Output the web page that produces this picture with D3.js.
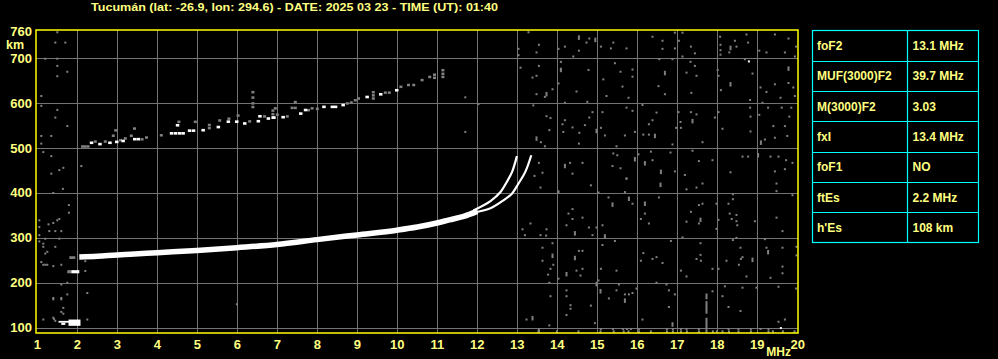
<!DOCTYPE html>
<html><head><meta charset="utf-8">
<script src="https://cdn.jsdelivr.net/npm/d3@7"></script>
<style>body{margin:0;background:#000;overflow:hidden}svg{display:block}</style>
</head><body><svg id="c" width="998" height="359"></svg>
<script>
const title = "Tucumán (lat: -26.9, lon: 294.6) - DATE: 2025 03 23 - TIME (UT): 01:40";
const freqTicks = d3.range(1, 21);
const heightTicks = [100, 200, 300, 400, 500, 600, 700, 760];
const paramNames = ["foF2", "MUF(3000)F2", "M(3000)F2", "fxI", "foF1", "ftEs", "h'Es"];
const paramValues = ["13.1 MHz", "39.7 MHz", "3.03", "13.4 MHz", "NO", "2.2 MHz", "108 km"];

// F2 main echo band (freq MHz, virtual height km)
const f2Band = [[2.05,257.5],[2.5,259],[3.0,262],[3.33,263.5],[4.0,267],[4.99,272],[5.99,278],[6.99,285],[7.99,296],[8.99,306.5],[9.99,317],[10.5,324],[10.99,333],[11.3,340],[11.66,348],[12.0,359]];
const oTrace = [[11.9,361],[12.33,382],[12.58,402],[12.74,425],[12.87,447],[12.99,482]];
const xTrace = [[11.95,357],[12.33,366],[12.66,384],[12.87,399],[13.03,421],[13.2,447],[13.35,484]];
// Es echoes: [f1, f2, hTop, hBottom]
const esBlocks = [[1.53,1.8,115,111],[1.78,2.08,118,104],[1.6,1.7,111,106],[1.85,2.05,228,221]];
const esGrey = [[1.75,1.85,228,221],[1.8,1.95,259,253]];
// second hop F2 echoes
const hop2White = [[2.35,512],[2.56,509],[2.81,512],[2.98,514],[3.14,516],[3.43,520],[3.52,520],[4.35,533],[4.45,533],[4.55,533],[4.64,533],[4.5,551],[4.8,539],[4.9,539],[5.14,540],[5.52,547],[5.77,559],[5.98,559],[6.18,555],[6.52,560],[6.56,571],[6.77,566],[6.89,568],[6.91,568],[7.14,569],[7.58,577],[7.7,585],[8.16,592],[8.37,592],[8.45,592],[8.64,596],[9.24,614],[9.58,620],[9.98,629]];
const hop2Grey = [[2.13,504],[2.2,504],[2.27,504],[2.45,515],[2.7,515],[2.96,540],[2.9,528],[3.43,544],[3.35,528],[3.73,524],[3.62,520],[4.1,529],[4.54,559],[4.95,559],[5.3,545],[5.3,552],[5.56,562],[5.79,566],[6.02,573],[6.31,560],[6.39,625],[6.39,613],[6.39,600],[6.39,592],[6.68,571],[6.89,584],[6.89,576],[6.95,589],[7.0,575],[7.25,571],[7.37,590],[7.45,603],[7.45,590],[7.78,585],[7.87,589],[8.0,588],[8.75,600],[8.85,602],[8.95,607],[9.03,611],[9.4,625],[9.4,618],[9.4,611],[9.7,624],[9.8,624],[10.09,637],[10.28,641],[10.41,641],[10.62,652],[10.81,659],[10.93,664],[10.93,657],[11.14,674],[11.14,666],[11.14,659],[3.2,522],[3.08,518]];
// scattered noise points (freq, height)
const noiseLeft = [[1.45,735],[1.7,735],[1.2,699],[1.5,699],[1.5,683],[1.75,670],[1.5,660],[1.1,616],[1.1,594],[1.5,585],[1.45,568],[1.75,549],[1.1,527],[1.35,527],[1.1,510],[1.15,491],[1.35,482],[2.1,460],[1.35,443],[1.55,451],[1.65,456],[1.64,409],[1.4,400],[1.79,373],[1.79,356],[1.05,339],[1.28,330],[1.4,333],[1.5,339],[1.55,342],[1.05,324],[1.3,315],[1.45,315],[1.6,315],[1.05,306],[1.2,298],[1.55,298],[1.05,292],[1.15,287],[1.45,280],[1.15,280],[1.25,269],[1.2,265],[1.1,246],[1.15,240],[1.2,240],[1.25,240],[1.4,237],[1.6,240],[2.2,248],[2.2,226],[1.6,196],[1.75,200],[1.75,174],[2.25,177],[1.4,166],[1.4,163],[1.6,166],[1.6,163],[1.65,144],[1.6,135],[1.65,131],[1.4,122],[1.42,119],[1.15,118],[1.45,115],[2.25,118],[1.5,758],[5.99,152],[11.7,613],[11.7,536],[12.03,598]];
const noiseHigh = [[13.03,721],[13.03,707],[13.54,730],[13.48,713],[14.03,721],[14.19,726],[14.4,704],[14.54,717],[14.73,735],[14.8,744],[15.09,726],[15.34,722],[15.4,735],[15.73,722],[16.38,748],[16.63,739],[16.63,721],[16.94,757],[16.94,722],[17.13,757],[17.04,739],[17.13,704],[17.34,726],[17.44,711],[18.07,748],[18.08,730],[18.08,718],[18.08,708],[18.44,739],[18.3,713],[18.48,726],[18.73,753],[18.77,735],[19.05,717],[19.23,713],[19.44,753],[19.69,713],[19.78,744],[19.94,704],[19.97,726],[13.28,758],
[13.08,679],[13.54,683],[13.38,657],[13.48,661],[13.88,631],[13.69,614],[13.48,620],[14.09,692],[14.09,674],[14.03,644],[14.48,626],[14.78,674],[14.75,603],[15.15,653],[15.44,689],[15.58,670],[15.63,637],[15.88,675],[15.88,659],[15.23,616],[15.78,612],[16.53,638],[16.69,620],[16.55,698],[16.88,698],[17.23,668],[17.33,692],[17.44,683],[17.48,661],[17.35,623],[18.01,674],[18.03,661],[18.09,629],[18.69,698],[18.88,666],[18.82,607],[19.08,635],[19.23,625],[19.44,642],[19.58,612],[19.78,645],[19.9,635],[19.94,616]];
const noiseMid = [[13.4,595],[13.73,571],[13.83,567],[13.8,540],[13.59,513],[13.69,504],[14.19,601],[14.19,562],[14.13,553],[14.15,536],[14.38,546],[14.55,534],[14.54,510],[14.69,551],[14.8,568],[14.88,580],[15.09,545],[15.13,580],[15.19,528],[15.48,504],[15.69,528],[15.73,590],[15.88,583],[15.94,536],[16.13,596],[16.15,530],[16.29,553],[16.29,530],[16.48,579],[16.38,562],[16.88,508],[16.97,545],[17.03,580],[17.08,558],[17.09,545],[17.34,580],[17.48,575],[17.63,513],[17.94,568],[18.03,580],[18.13,543],[18.82,590],[18.83,570],[18.83,537],[19.05,574],[19.13,601],[19.27,590],[19.4,549],[19.44,523],[19.61,590],[19.69,549],[19.75,527],[19.85,590],[19.8,570],[19.19,519],
[13.54,467],[13.63,445],[13.43,438],[14.32,467],[14.38,443],[14.63,467],[15.4,488],[15.5,484],[15.38,460],[15.58,455],[15.73,432],[16.03,486],[16.34,492],[16.38,473],[16.83,490],[16.94,448],[17.19,440],[17.38,494],[17.54,471],[17.88,473],[18.33,446],[18.63,481],[18.77,481],[19.33,481],[19.53,481],[19.72,473],[19.88,467],[19.44,448],[19.69,453],
[13.58,412],[14.84,417],[15.03,401],[15.69,402],[15.73,432],[17.23,408],[17.48,412],[17.63,421],[19.48,421],[19.48,404]];
const noiseLow = [[13.33,332],[13.13,319],[13.19,306],[13.58,306],[13.73,319],[13.72,305],[14.28,354],[14.38,364],[14.38,342],[14.63,345],[14.23,328],[14.79,323],[14.88,306],[14.98,323],[15.13,328],[15.28,390],[15.88,376],[16.19,354],[16.09,342],[16.29,332],[16.54,390],[17.13,301],[17.23,336],[17.34,358],[17.54,373],[17.63,376],[17.54,332],[17.98,376],[18.03,340],[17.98,320],[18.28,376],[18.39,386],[18.31,354],[18.36,342],[18.48,351],[18.48,337],[18.5,328],[18.39,397],[18.94,337],[19.48,345],[19.63,315],[19.88,395],
[13.63,278],[13.63,249],[13.88,288],[13.9,240],[13.83,231],[13.77,218],[14.03,209],[13.8,200],[14.54,271],[14.63,271],[14.48,227],[14.63,231],[14.58,216],[15.09,231],[15.13,284],[15.44,293],[15.48,227],[15.03,205],[16.15,266],[16.09,249],[16.38,253],[16.48,257],[16.63,244],[16.84,293],[17.09,227],[17.23,214],[17.58,288],[17.58,262],[17.48,253],[17.59,249],[17.88,231],[18.03,231],[18.23,249],[18.39,295],[18.48,300],[18.58,278],[18.59,253],[18.63,257],[18.54,240],[18.73,214],[19.19,297],[19.23,278],[19.33,211],[19.63,278],[19.63,236],[19.63,221],[19.98,280],[19.98,261],
[13.83,170],[13.23,118],[13.8,105],[14.23,183],[14.23,170],[14.33,150],[14.33,142],[14.23,128],[14.84,149],[14.94,110],[15.54,196],[15.48,183],[15.29,165],[15.69,174],[15.79,174],[15.88,177],[15.98,187],[16.13,118],[16.48,200],[16.73,196],[16.79,183],[16.94,174],[16.79,146],[17.88,181],[18.13,170],[18.28,146],[18.19,192],[18.58,137],[18.63,189],[18.98,189],[19.53,191],[19.53,113],[19.69,118],[19.97,187],
[15.09,97],[15.39,97],[15.64,97],[15.74,97],[15.84,97],[16.04,97],[16.74,97],[16.89,97],[17.09,97],[17.23,97],[17.54,97],[18.28,97],[18.53,97],[18.84,97],[19.08,97],[19.28,97]];
const noiseWhite = [[18.79,693],[19.59,99]];
// vertical noise streaks: [freq, hLow, hHigh]
const noiseBars = [[17.73,163,176],[17.73,131,159],[17.73,88,122],[14.54,741,751],[14.95,736,746],[18.33,718,728],[13.73,615,625],[14.09,669,679],[16.69,662,672],[19.78,672,682],[18.33,637,647],[13.48,516,526],[14.98,533,543],[16.44,522,532],[17.38,555,565],[19.09,507,517],[19.02,479,489],[14.19,455,465],[15.94,470,480],[16.19,461,471],[16.59,442,452],[14.03,398,406],[16.58,413,423],[15.38,369,379],[15.79,382,392],[16.19,371,381],[17.58,335,345],[14.44,305,315],[15.19,298,308],[13.88,255,265],[14.44,250,260],[14.23,214,224],[18.88,246,256],[19.27,263,273],[14.98,192,202],[13.38,116,126],[15.08,176,186],[15.69,155,165],[16.88,102,112],[13.54,89,99]];
const bottomStreaks = [13.53,13.99,14.53,15.08,15.41,15.66,15.78,16.04,16.34,16.74,16.89,17.09,17.24,17.54,17.89,17.99,18.13,18.29,18.53,18.84,19.28,19.39,19.64,19.93];

const svg = d3.select("#c");
svg.append("rect").attr("width", 998).attr("height", 359).attr("fill", "#000");
const x = d3.scaleLinear().domain([1, 20]).range([37.3, 797.3]);
const y = d3.scaleLinear().domain([88, 763]).range([333, 30]);
const FONT = "'Liberation Sans', Arial, sans-serif";
const TXT = "#ffff80";
const GRID = "#737373";
const NOISE = "#808080";

// title
svg.append("text").attr("x", 91).attr("y", 11).attr("textLength", 407).attr("lengthAdjust", "spacingAndGlyphs")
  .attr("fill", TXT).attr("font-family", FONT).attr("font-weight", "bold").attr("font-size", 11.5).text(title);

// grid
const g = svg.append("g");
g.selectAll("line.v").data(freqTicks.filter(d => d > 1 && d < 20)).join("line")
  .attr("x1", d => Math.round(x(d)) + 0.5).attr("x2", d => Math.round(x(d)) + 0.5)
  .attr("y1", 30).attr("y2", 333).attr("stroke", GRID).attr("stroke-width", 1);
g.selectAll("line.h").data(heightTicks.filter(d => d < 760)).join("line")
  .attr("y1", d => Math.round(y(d)) + 0.5).attr("y2", d => Math.round(y(d)) + 0.5)
  .attr("x1", 36).attr("x2", 798).attr("stroke", GRID).attr("stroke-width", 1);

// noise
const allNoise = noiseLeft.concat(noiseHigh, noiseMid, noiseLow);
g.selectAll("rect.n").data(allNoise).join("rect")
  .attr("x", d => x(d[0]) - 1).attr("y", d => y(d[1]) - 1).attr("width", 2).attr("height", 2).attr("fill", NOISE);
g.selectAll("rect.b").data(noiseBars).join("rect")
  .attr("x", d => x(d[0]) - 1).attr("y", d => y(d[2])).attr("width", 2).attr("height", d => y(d[1]) - y(d[2])).attr("fill", NOISE);
g.selectAll("rect.bs").data(bottomStreaks).join("rect")
  .attr("x", d => x(d) - 1).attr("y", y(94)).attr("width", 2).attr("height", y(88) - y(94)).attr("fill", NOISE);
g.selectAll("rect.w").data(noiseWhite).join("rect")
  .attr("x", d => x(d[0]) - 1).attr("y", d => y(d[1]) - 1).attr("width", 2).attr("height", 2).attr("fill", "#fff");

// second hop
g.selectAll("rect.h2g").data(hop2Grey).join("rect")
  .attr("x", d => x(d[0]) - 1.5).attr("y", d => y(d[1]) - 1).attr("width", 3).attr("height", 2.5).attr("fill", NOISE);
g.selectAll("rect.h2w").data(hop2White).join("rect")
  .attr("x", d => x(d[0]) - 1.5).attr("y", d => y(d[1]) - 1.2).attr("width", 3.5).attr("height", 2.6).attr("fill", "#fff");

// Es
g.selectAll("rect.esg").data(esGrey).join("rect")
  .attr("x", d => x(d[0])).attr("y", d => y(d[2])).attr("width", d => x(d[1]) - x(d[0]))
  .attr("height", d => y(d[3]) - y(d[2])).attr("fill", NOISE);
g.selectAll("rect.es").data(esBlocks).join("rect")
  .attr("x", d => x(d[0])).attr("y", d => y(d[2])).attr("width", d => x(d[1]) - x(d[0]))
  .attr("height", d => y(d[3]) - y(d[2])).attr("fill", "#fff");

// F2 traces
const line = d3.line().x(d => x(d[0])).y(d => y(d[1])).curve(d3.curveMonotoneX);
g.append("path").attr("d", line(f2Band)).attr("fill", "none").attr("stroke", "#fff").attr("stroke-width", 5.5);
const lineC = d3.line().x(d => x(d[0])).y(d => y(d[1])).curve(d3.curveCatmullRom);
g.append("path").attr("d", lineC(oTrace)).attr("fill", "none").attr("stroke", "#fff").attr("stroke-width", 2.2);
g.append("path").attr("d", lineC(xTrace)).attr("fill", "none").attr("stroke", "#fff").attr("stroke-width", 2.2);

// frame
svg.append("rect").attr("x", 36).attr("y", 30).attr("width", 762).attr("height", 303)
  .attr("fill", "none").attr("stroke", "#ffff00").attr("stroke-width", 1.5);

// y labels
svg.selectAll("text.yl").data(heightTicks).join("text")
  .attr("x", 32).attr("y", d => y(d) + 4.5).attr("text-anchor", "end")
  .attr("fill", TXT).attr("font-family", FONT).attr("font-weight", "bold").attr("font-size", 13).text(d => d);
svg.append("text").attr("x", 6).attr("y", 49).attr("fill", TXT).attr("font-family", FONT)
  .attr("font-weight", "bold").attr("font-size", 12.5).text("km");

// x labels
svg.selectAll("text.xl").data(freqTicks).join("text")
  .attr("x", d => x(d) + (d === 20 ? 0.5 : 0)).attr("y", 348.5).attr("text-anchor", "middle")
  .attr("fill", TXT).attr("font-family", FONT).attr("font-weight", "bold").attr("font-size", 13).text(d => d);
svg.append("text").attr("x", 791).attr("y", 356).attr("text-anchor", "end").attr("fill", TXT)
  .attr("font-family", FONT).attr("font-weight", "bold").attr("font-size", 12).text("MHz");

// parameter table
const rows = d3.scaleBand().domain(paramNames).range([30.5, 242.5]);
const tb = svg.append("g");
tb.append("rect").attr("x", 812.5).attr("y", 30.5).attr("width", 166).attr("height", 212)
  .attr("fill", "none").attr("stroke", "#00ffff").attr("stroke-width", 1.2);
tb.append("line").attr("x1", 907.5).attr("x2", 907.5).attr("y1", 30.5).attr("y2", 242.5)
  .attr("stroke", "#00ffff").attr("stroke-width", 1.2);
tb.selectAll("line.r").data(paramNames.slice(1)).join("line")
  .attr("x1", 812.5).attr("x2", 978.5).attr("y1", d => Math.round(rows(d)) + 0.5).attr("y2", d => Math.round(rows(d)) + 0.5)
  .attr("stroke", "#00ffff").attr("stroke-width", 1.2);
tb.selectAll("text.pn").data(paramNames).join("text")
  .attr("x", 817).attr("y", d => rows(d) + rows.bandwidth() / 2 + 4.5)
  .attr("fill", TXT).attr("font-family", FONT).attr("font-weight", "bold").attr("font-size", 12).text(d => d);
tb.selectAll("text.pv").data(paramValues).join("text")
  .attr("x", 912.5).attr("y", (d, i) => rows(paramNames[i]) + rows.bandwidth() / 2 + 4.5)
  .attr("fill", TXT).attr("font-family", FONT).attr("font-weight", "bold").attr("font-size", 12).text(d => d);
</script></body></html>
